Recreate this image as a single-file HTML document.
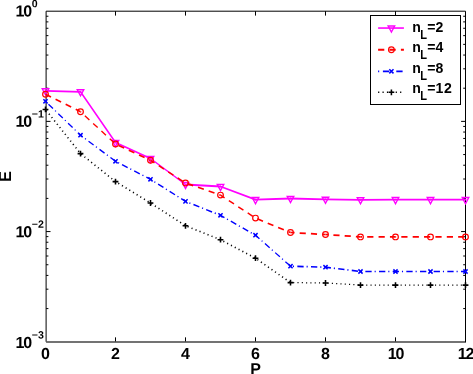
<!DOCTYPE html>
<html><head><meta charset="utf-8"><title>E vs P</title>
<style>html,body{margin:0;padding:0;background:#fff;overflow:hidden}svg{display:block}text{font-family:"Liberation Sans",Arial,Helvetica,sans-serif;font-weight:bold;fill:#000}</style></head><body>
<svg width="473" height="374" viewBox="0 0 473 374">
<rect x="0" y="0" width="473" height="374" fill="#fff"/>
<path d="M115.50 341.75v-4.4M115.50 11.20v4.4M185.50 341.75v-4.4M185.50 11.20v4.4M255.50 341.75v-4.4M255.50 11.20v4.4M325.50 341.75v-4.4M325.50 11.20v4.4M395.50 341.75v-4.4M395.50 11.20v4.4M46.10 88.21h2.3M465.50 88.21h-2.3M46.10 68.81h2.3M465.50 68.81h-2.3M46.10 55.05h2.3M465.50 55.05h-2.3M46.10 44.37h2.3M465.50 44.37h-2.3M46.10 35.64h2.3M465.50 35.64h-2.3M46.10 28.27h2.3M465.50 28.27h-2.3M46.10 21.88h2.3M465.50 21.88h-2.3M46.10 16.24h2.3M465.50 16.24h-2.3M46.10 121.38h4.4M465.50 121.38h-4.4M46.10 198.40h2.3M465.50 198.40h-2.3M46.10 179.00h2.3M465.50 179.00h-2.3M46.10 165.23h2.3M465.50 165.23h-2.3M46.10 154.55h2.3M465.50 154.55h-2.3M46.10 145.83h2.3M465.50 145.83h-2.3M46.10 138.45h2.3M465.50 138.45h-2.3M46.10 132.06h2.3M465.50 132.06h-2.3M46.10 126.43h2.3M465.50 126.43h-2.3M46.10 231.57h4.4M465.50 231.57h-4.4M46.10 308.58h2.3M465.50 308.58h-2.3M46.10 289.18h2.3M465.50 289.18h-2.3M46.10 275.41h2.3M465.50 275.41h-2.3M46.10 264.74h2.3M465.50 264.74h-2.3M46.10 256.01h2.3M465.50 256.01h-2.3M46.10 248.63h2.3M465.50 248.63h-2.3M46.10 242.24h2.3M465.50 242.24h-2.3M46.10 236.61h2.3M465.50 236.61h-2.3" stroke="#000" stroke-width="1" fill="none"/>
<path d="M46.1 341.75V11.2H465.5" stroke="#000" stroke-width="1" fill="none"/>
<path d="M46.1 341.9H465.5" stroke="#444" stroke-width="1.5" fill="none"/>
<path d="M465.5 342.45V11.2" stroke="#000" stroke-width="1" fill="none"/>
<g fill="none" stroke="#f0f" stroke-linecap="round"><path d="M45.50 90.80L80.50 91.80" stroke-width="1.85"/><path d="M80.50 91.80L115.50 142.50" stroke-width="1.52"/><path d="M115.50 142.50L150.50 158.50" stroke-width="1.68"/><path d="M150.50 158.50L185.50 184.50" stroke-width="1.49"/><path d="M185.50 184.50L220.50 186.50" stroke-width="1.85"/><path d="M220.50 186.50L255.50 199.60" stroke-width="1.73"/><path d="M255.50 199.60L290.50 198.50" stroke-width="1.85"/><path d="M290.50 198.50L325.50 199.30" stroke-width="1.85"/><path d="M325.50 199.30L360.50 199.80" stroke-width="1.85"/><path d="M360.50 199.80L395.50 199.60" stroke-width="1.85"/><path d="M395.50 199.60L430.50 199.60" stroke-width="1.85"/><path d="M430.50 199.60L465.50 199.60" stroke-width="1.85"/></g>
<path d="M42.20 88.70h6.6L45.50 94.90ZM77.20 89.70h6.6L80.50 95.90ZM112.20 140.40h6.6L115.50 146.60ZM147.20 156.40h6.6L150.50 162.60ZM182.20 182.40h6.6L185.50 188.60ZM217.20 184.40h6.6L220.50 190.60ZM252.20 197.50h6.6L255.50 203.70ZM287.20 196.40h6.6L290.50 202.60ZM322.20 197.20h6.6L325.50 203.40ZM357.20 197.70h6.6L360.50 203.90ZM392.20 197.50h6.6L395.50 203.70ZM427.20 197.50h6.6L430.50 203.70ZM462.20 197.50h6.6L465.50 203.70Z" fill="none" stroke="#f0f" stroke-width="1.35" stroke-linejoin="miter"/>
<g fill="none" stroke="#f00"><path d="M45.50 94.20L80.50 111.70" stroke-width="1.57" stroke-dasharray="6.15 5.12" stroke-dashoffset="0.00"/><path d="M80.50 111.70L115.50 144.00" stroke-width="1.36" stroke-dasharray="6.15 5.12" stroke-dashoffset="5.32"/><path d="M115.50 144.00L150.50 160.30" stroke-width="1.59" stroke-dasharray="6.15 5.12" stroke-dashoffset="7.87"/><path d="M150.50 160.30L185.50 183.00" stroke-width="1.47" stroke-dasharray="6.15 5.12" stroke-dashoffset="1.40"/><path d="M185.50 183.00L220.50 195.10" stroke-width="1.65" stroke-dasharray="6.15 5.12" stroke-dashoffset="9.30"/><path d="M220.50 195.10L255.50 218.10" stroke-width="1.46" stroke-dasharray="6.15 5.12" stroke-dashoffset="1.26"/><path d="M255.50 218.10L290.50 232.50" stroke-width="1.62" stroke-dasharray="6.15 5.12" stroke-dashoffset="9.33"/><path d="M290.50 232.50L325.50 234.50" stroke-width="1.75" stroke-dasharray="6.15 5.12" stroke-dashoffset="2.09"/><path d="M325.50 234.50L360.50 236.90" stroke-width="1.75" stroke-dasharray="6.15 5.12" stroke-dashoffset="3.34"/><path d="M360.50 236.90L395.50 236.90" stroke-width="1.75" stroke-dasharray="6.2 5.17" stroke-dashoffset="4.67"/><path d="M395.50 236.90L430.50 236.90" stroke-width="1.75" stroke-dasharray="6.2 5.17" stroke-dashoffset="5.56"/><path d="M430.50 236.90L465.50 236.90" stroke-width="1.75" stroke-dasharray="6.2 5.17" stroke-dashoffset="6.45"/></g>
<circle cx="45.50" cy="94.20" r="2.85" fill="none" stroke="#f00" stroke-width="1.2"/><circle cx="80.50" cy="111.70" r="2.85" fill="none" stroke="#f00" stroke-width="1.2"/><circle cx="115.50" cy="144.00" r="2.85" fill="none" stroke="#f00" stroke-width="1.2"/><circle cx="150.50" cy="160.30" r="2.85" fill="none" stroke="#f00" stroke-width="1.2"/><circle cx="185.50" cy="183.00" r="2.85" fill="none" stroke="#f00" stroke-width="1.2"/><circle cx="220.50" cy="195.10" r="2.85" fill="none" stroke="#f00" stroke-width="1.2"/><circle cx="255.50" cy="218.10" r="2.85" fill="none" stroke="#f00" stroke-width="1.2"/><circle cx="290.50" cy="232.50" r="2.85" fill="none" stroke="#f00" stroke-width="1.2"/><circle cx="325.50" cy="234.50" r="2.85" fill="none" stroke="#f00" stroke-width="1.2"/><circle cx="360.50" cy="236.90" r="2.85" fill="none" stroke="#f00" stroke-width="1.2"/><circle cx="395.50" cy="236.90" r="2.85" fill="none" stroke="#f00" stroke-width="1.2"/><circle cx="430.50" cy="236.90" r="2.85" fill="none" stroke="#f00" stroke-width="1.2"/><circle cx="465.50" cy="236.90" r="2.85" fill="none" stroke="#f00" stroke-width="1.2"/>
<g fill="none" stroke="#00f"><path d="M45.50 101.30L80.50 135.20" stroke-width="1.29" stroke-dasharray="1.1 3.3 6.3 2.96" stroke-dashoffset="0.27"/><path d="M80.50 135.20L115.50 161.30" stroke-width="1.32" stroke-dasharray="1.1 3.3 6.3 2.96" stroke-dashoffset="8.02"/><path d="M115.50 161.30L150.50 179.30" stroke-width="1.47" stroke-dasharray="1.1 3.3 6.3 2.96" stroke-dashoffset="10.70"/><path d="M150.50 179.30L185.50 201.40" stroke-width="1.40" stroke-dasharray="1.1 3.3 6.3 2.96" stroke-dashoffset="9.07"/><path d="M185.50 201.40L220.50 215.30" stroke-width="1.53" stroke-dasharray="1.1 3.3 6.3 2.96" stroke-dashoffset="9.49"/><path d="M220.50 215.30L255.50 235.20" stroke-width="1.43" stroke-dasharray="1.1 3.3 6.3 2.96" stroke-dashoffset="6.17"/><path d="M255.50 235.20L290.50 266.20" stroke-width="1.29" stroke-dasharray="1.1 3.3 6.3 2.96" stroke-dashoffset="5.45"/><path d="M290.50 266.20L325.50 267.20" stroke-width="1.65" stroke-dasharray="1.1 3.3 6.3 2.96" stroke-dashoffset="11.22"/><path d="M325.50 267.20L360.50 271.50" stroke-width="1.64" stroke-dasharray="1.1 3.3 6.3 2.96" stroke-dashoffset="5.26"/><path d="M360.50 271.50L395.50 271.50" stroke-width="1.65" stroke-dasharray="1.1 3.3 6.3 2.96" stroke-dashoffset="13.20"/><path d="M395.50 271.50L430.50 271.50" stroke-width="1.65" stroke-dasharray="1.1 3.3 6.3 2.96" stroke-dashoffset="7.22"/><path d="M430.50 271.50L465.50 271.50" stroke-width="1.65" stroke-dasharray="1.1 3.3 6.3 2.96" stroke-dashoffset="1.24"/></g>
<path d="M43.40 99.20l4.2 4.2M43.40 103.40l4.2 -4.2M78.40 133.10l4.2 4.2M78.40 137.30l4.2 -4.2M113.40 159.20l4.2 4.2M113.40 163.40l4.2 -4.2M148.40 177.20l4.2 4.2M148.40 181.40l4.2 -4.2M183.40 199.30l4.2 4.2M183.40 203.50l4.2 -4.2M218.40 213.20l4.2 4.2M218.40 217.40l4.2 -4.2M253.40 233.10l4.2 4.2M253.40 237.30l4.2 -4.2M288.40 264.10l4.2 4.2M288.40 268.30l4.2 -4.2M323.40 265.10l4.2 4.2M323.40 269.30l4.2 -4.2M358.40 269.40l4.2 4.2M358.40 273.60l4.2 -4.2M393.40 269.40l4.2 4.2M393.40 273.60l4.2 -4.2M428.40 269.40l4.2 4.2M428.40 273.60l4.2 -4.2M463.40 269.40l4.2 4.2M463.40 273.60l4.2 -4.2" fill="none" stroke="#00f" stroke-width="1.5" stroke-linejoin="miter"/>
<g fill="none" stroke="#000"><path d="M45.50 109.40L80.50 153.60" stroke-width="1.60" stroke-dasharray="1.1 3.2" stroke-dashoffset="3.02"/><path d="M80.50 153.60L115.50 181.60" stroke-width="1.60" stroke-dasharray="1.1 3.2" stroke-dashoffset="3.50"/><path d="M115.50 181.60L150.50 203.00" stroke-width="1.60" stroke-dasharray="1.1 3.2" stroke-dashoffset="1.03"/><path d="M150.50 203.00L185.50 225.80" stroke-width="1.60" stroke-dasharray="1.1 3.2" stroke-dashoffset="3.35"/><path d="M185.50 225.80L220.50 239.70" stroke-width="1.60" stroke-dasharray="1.1 3.2" stroke-dashoffset="2.12"/><path d="M220.50 239.70L255.50 258.20" stroke-width="1.60" stroke-dasharray="1.1 3.2" stroke-dashoffset="1.08"/><path d="M255.50 258.20L290.50 282.60" stroke-width="1.60" stroke-dasharray="1.1 3.2" stroke-dashoffset="1.97"/><path d="M290.50 282.60L325.50 283.00" stroke-width="1.25" stroke-dasharray="1.1 3.2" stroke-dashoffset="1.63"/><path d="M325.50 283.00L360.50 285.10" stroke-width="1.25" stroke-dasharray="1.1 3.2" stroke-dashoffset="2.24"/><path d="M360.50 285.10L395.50 285.10" stroke-width="1.25" stroke-dasharray="1.1 3.2" stroke-dashoffset="2.90"/><path d="M395.50 285.10L430.50 285.10" stroke-width="1.25" stroke-dasharray="1.1 3.2" stroke-dashoffset="3.50"/><path d="M430.50 285.10L465.50 285.10" stroke-width="1.25" stroke-dasharray="1.1 3.2" stroke-dashoffset="4.10"/></g>
<path d="M42.60 109.40h5.8M45.50 106.50v5.8M77.60 153.60h5.8M80.50 150.70v5.8M112.60 181.60h5.8M115.50 178.70v5.8M147.60 203.00h5.8M150.50 200.10v5.8M182.60 225.80h5.8M185.50 222.90v5.8M217.60 239.70h5.8M220.50 236.80v5.8M252.60 258.20h5.8M255.50 255.30v5.8M287.60 282.60h5.8M290.50 279.70v5.8M322.60 283.00h5.8M325.50 280.10v5.8M357.60 285.10h5.8M360.50 282.20v5.8M392.60 285.10h5.8M395.50 282.20v5.8M427.60 285.10h5.8M430.50 282.20v5.8M462.60 285.10h5.8M465.50 282.20v5.8" fill="none" stroke="#000" stroke-width="1.55" stroke-linejoin="miter"/>
<text transform="translate(45.50 358.90) rotate(0.04)" font-size="16" text-anchor="middle" >0</text>
<text transform="translate(115.50 358.90) rotate(0.04)" font-size="16" text-anchor="middle" >2</text>
<text transform="translate(185.50 358.90) rotate(0.04)" font-size="16" text-anchor="middle" >4</text>
<text transform="translate(255.50 358.90) rotate(0.04)" font-size="16" text-anchor="middle" >6</text>
<text transform="translate(325.50 358.90) rotate(0.04)" font-size="16" text-anchor="middle" >8</text>
<text transform="translate(395.40 358.90) rotate(0.04)" font-size="16" text-anchor="middle" letter-spacing="-1.2" >10</text>
<text transform="translate(465.40 358.90) rotate(0.04)" font-size="16" text-anchor="middle" letter-spacing="-1.2" >12</text>
<text transform="translate(15.60 16.60) rotate(0.04)" font-size="16" text-anchor="start" letter-spacing="-1.2" >10</text>
<text transform="translate(31.80 7.20) rotate(0.04)" font-size="10.6" text-anchor="start" >0</text>
<text transform="translate(15.60 126.80) rotate(0.04)" font-size="16" text-anchor="start" letter-spacing="-1.2" >10</text>
<text transform="translate(31.80 117.40) rotate(0.04)" font-size="10.6" text-anchor="start" >−1</text>
<text transform="translate(15.60 237.20) rotate(0.04)" font-size="16" text-anchor="start" letter-spacing="-1.2" >10</text>
<text transform="translate(31.80 227.80) rotate(0.04)" font-size="10.6" text-anchor="start" >−2</text>
<text transform="translate(15.60 347.90) rotate(0.04)" font-size="16" text-anchor="start" letter-spacing="-1.2" >10</text>
<text transform="translate(31.80 338.50) rotate(0.04)" font-size="10.6" text-anchor="start" >−3</text>
<text transform="translate(255.60 374.30) rotate(0.04)" font-size="16" text-anchor="middle" >P</text>
<text transform="translate(11.2 176.3) rotate(-90)" font-size="16" text-anchor="middle" >E</text>
<rect x="370.5" y="15.5" width="90" height="89" fill="#fff" stroke="#000" stroke-width="1"/>
<path d="M378.1 28.05H403.9" stroke="#f0f" stroke-width="1.6"/>
<path d="M378.1 49.8H403.9" stroke="#f00" stroke-width="1.9" stroke-dasharray="6.2 5.2"/>
<path d="M378.1 71.3H403.9" stroke="#00f" stroke-width="1.8" stroke-dasharray="1.1 3.7 6.4 7.0 6.3 20"/>
<path d="M378.1 92.3H403.9" stroke="#000" stroke-width="1.5" stroke-dasharray="1.2 3.2"/>
<path d="M388.10 25.95h6.6L391.40 32.15Z" fill="none" stroke="#f0f" stroke-width="1.35" stroke-linejoin="miter"/>
<circle cx="391.40" cy="49.80" r="2.85" fill="none" stroke="#f00" stroke-width="1.2"/>
<path d="M389.30 69.20l4.2 4.2M389.30 73.40l4.2 -4.2" fill="none" stroke="#00f" stroke-width="1.5" stroke-linejoin="miter"/>
<path d="M388.50 92.30h5.8M391.40 89.40v5.8" fill="none" stroke="#000" stroke-width="1.55" stroke-linejoin="miter"/>
<text transform="translate(412.2 31.7) scale(0.88 0.96)" font-size="16" >n<tspan x="9.20" dy="7.29" font-size="12.6">L</tspan><tspan x="17.05" dy="-7.29">=2</tspan></text>
<text transform="translate(412.2 51.7) scale(0.88 0.96)" font-size="16" >n<tspan x="9.20" dy="7.29" font-size="12.6">L</tspan><tspan x="17.05" dy="-7.29">=4</tspan></text>
<text transform="translate(412.2 72.7) scale(0.88 0.96)" font-size="16" >n<tspan x="9.20" dy="7.29" font-size="12.6">L</tspan><tspan x="17.05" dy="-7.29">=8</tspan></text>
<text transform="translate(412.2 93) scale(0.88 0.96)" font-size="16" >n<tspan x="9.20" dy="7.29" font-size="12.6">L</tspan><tspan x="17.05" dy="-7.29">=<tspan letter-spacing="0.9">12</tspan></tspan></text>
</svg></body></html>
